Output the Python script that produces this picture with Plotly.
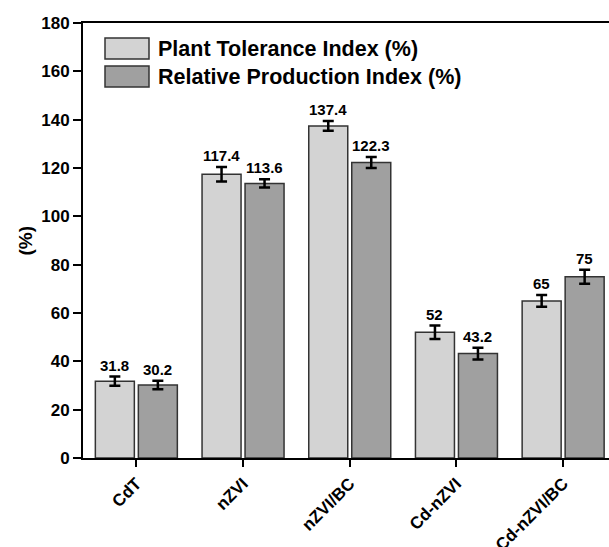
import plotly.graph_objects as go

categories = ["CdT", "nZVI", "nZVI/BC", "Cd-nZVI", "Cd-nZVI/BC"]
pti_values = [31.8, 117.4, 137.4, 52, 65]
pti_errors = [1.9, 3.0, 2.0, 2.8, 2.4]
rpi_values = [30.2, 113.6, 122.3, 43.2, 75]
rpi_errors = [1.8, 1.7, 2.3, 2.4, 2.9]
pti_labels = ["31.8", "117.4", "137.4", "52", "65"]
rpi_labels = ["30.2", "113.6", "122.3", "43.2", "75"]
series_names = ["Plant Tolerance Index (%)", "Relative Production Index (%)"]
y_ticks = [0, 20, 40, 60, 80, 100, 120, 140, 160, 180]

FONT = "Liberation Sans, Arial, sans-serif"
LIGHT = "#d3d3d3"
DARK = "#a0a0a0"
EDGE = "#333333"

W, H = 609, 547
ML, MR, MT, MB = 83, 0, 23, 89
pw = W - ML - MR
ph = H - MT - MB
cat_px = 106.7

fig = go.Figure()
for name, vals, errs, col in [
    (series_names[0], pti_values, pti_errors, LIGHT),
    (series_names[1], rpi_values, rpi_errors, DARK),
]:
    fig.add_trace(go.Bar(
        x=categories, y=vals, name=name,
        marker=dict(color=col, line=dict(color=EDGE, width=1.5)),
        error_y=dict(type="data", array=errs, color="black", thickness=2.5, width=5.5),
        showlegend=False,
    ))

offset = (1 - 0.194) / 4
annotations = []
for i in range(len(categories)):
    for vals, errs, labs, sign in [(pti_values, pti_errors, pti_labels, -1),
                                   (rpi_values, rpi_errors, rpi_labels, 1)]:
        annotations.append(dict(
            x=i + sign * offset, y=vals[i] + errs[i], xref="x", yref="y",
            text=labs[i], showarrow=False, yanchor="bottom", yshift=1,
            font=dict(family=FONT, size=15, color="black", weight="bold"),
        ))

# y-axis title
annotations.append(dict(
    x=(25 - ML) / pw, y=0.5, xref="paper", yref="paper", text="(%)",
    textangle=-90, showarrow=False, xanchor="center", yanchor="middle",
    font=dict(family=FONT, size=19, color="black", weight="bold"),
))

# legend
shapes = []
legend_rows = [(series_names[0], LIGHT, 48.5), (series_names[1], DARK, 76.5)]
for name, col, yc in legend_rows:
    y0 = 1 - (yc - 10.5 - MT) / ph
    y1 = 1 - (yc + 10.5 - MT) / ph
    shapes.append(dict(
        type="rect", xref="paper", yref="paper",
        x0=(105 - ML) / pw, x1=(149 - ML) / pw, y0=y1, y1=y0,
        fillcolor=col, line=dict(color=EDGE, width=1.5),
    ))
    annotations.append(dict(
        x=(156 - ML) / pw, y=1 - (yc - MT) / ph, xref="paper", yref="paper",
        text=name, showarrow=False, xanchor="left", yanchor="middle",
        font=dict(family=FONT, size=21.5, color="black", weight="bold"),
    ))

fig.update_layout(
    width=W, height=H,
    margin=dict(l=ML, r=MR, t=MT, b=MB, pad=0),
    paper_bgcolor="white", plot_bgcolor="white",
    barmode="group", bargap=0.194, bargroupgap=0.093,
    font=dict(family=FONT, color="black"),
    annotations=annotations, shapes=shapes,
    showlegend=False,
)
fig.update_xaxes(
    range=[-0.5, -0.5 + pw / cat_px],
    showline=True, linecolor="black", linewidth=2, mirror=True,
    ticks="outside", ticklen=7, tickwidth=2, tickcolor="black",
    tickangle=-45, automargin=False, showgrid=False,
    tickfont=dict(family=FONT, size=17, color="black", weight="bold"),
)
fig.update_yaxes(
    range=[0, 180], tickvals=y_ticks, ticktext=[str(t) for t in y_ticks],
    showline=True, linecolor="black", linewidth=2, mirror=False,
    ticks="outside", ticklen=8, tickwidth=2, tickcolor="black",
    showgrid=False, zeroline=False, automargin=False,
    tickfont=dict(family=FONT, size=17, color="black", weight="bold"),
)

fig.write_html("out.html")
